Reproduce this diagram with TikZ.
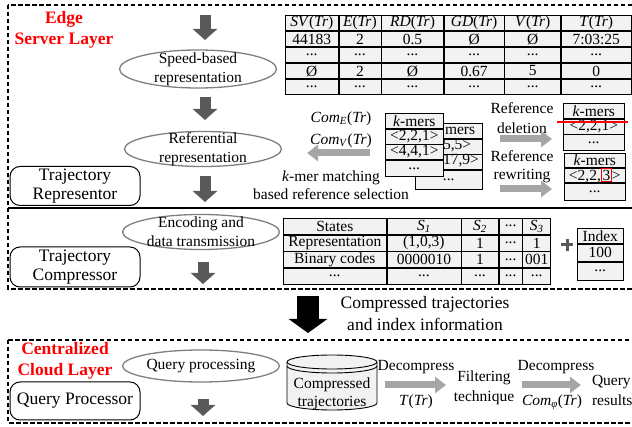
\documentclass[tikz,border=0pt]{standalone}
\usepackage{fontspec}
\setmainfont{Liberation Serif}
\usetikzlibrary{arrows.meta,shapes.geometric,matrix}
\definecolor{dgray}{HTML}{595959}
\definecolor{lgray}{HTML}{A6A6A6}
\definecolor{cellgray}{HTML}{F2F2F2}
\definecolor{ellgray}{HTML}{7F7F7F}
\newcommand{\myfs}[2]{\fontsize{#1pt}{#2pt}\selectfont}
\newcommand{\redbox}[1]{{\setlength{\fboxsep}{0.8pt}\setlength{\fboxrule}{0.8pt}\fcolorbox{red}{cellgray}{#1}}}
\begin{document}
\begin{tikzpicture}[x=1pt,y=-1pt,
  every node/.style={font=\myfs{15.5}{17}, inner sep=0pt, outer sep=0pt},
  frame/.style={draw, line width=2.2pt, dash pattern=on 4.5pt off 2.5pt},
  proc/.style={ellipse, draw=ellgray, line width=1.3pt, minimum width=157pt, minimum height=35pt},
  module/.style={draw, rounded corners=10pt, line width=1pt, minimum width=130pt, minimum height=39pt, align=center, font=\myfs{17.5}{19}},
  darr/.style={draw=dgray, line width=11pt, -{Triangle[length=11pt,width=24pt]}},
  garr/.style={draw=lgray, line width=7pt, -{Triangle[length=11pt,width=16pt]}},
  cell/.style={draw, line width=0.6pt, fill=cellgray, minimum height=15.4pt, anchor=center, font=\myfs{15.5}{17}},
  tab/.style={matrix of nodes, nodes={cell}, column sep=0pt, row sep=0pt, anchor=north west, inner sep=0pt},
  lbl/.style={align=center, font=\myfs{15.5}{19}},
  layer/.style={text=red, align=center, font=\bfseries\myfs{17.5}{21}}
]
\useasboundingbox (0,0) rectangle (632,427);

% layer frames
\draw[frame] (8,5) rectangle (645,289);
\draw[line width=1.5pt] (8,208) -- (645,208);
\draw[frame] (8,340) rectangle (645,423);

\node[layer] (edge) at (64,30) {Edge\\Server Layer};
\node[layer] (cloud) at (65,361) {Centralized\\Cloud Layer};

% modules
\node[module] (rep) at (75,186) {Trajectory\\Representor};
\node[module, minimum height=40pt] (comp) at (75,267) {Trajectory\\Compressor};
\node[module, minimum height=38pt] (qp) at (75,401) {Query Processor};

% process ellipses
\node[proc, minimum height=38pt] (speed) at (198,69) {};
\node[lbl] (speedt) at (speed) {Speed-based\\representation};
\node[proc] (ref) at (203,149) {};
\node[lbl] (reft) at (ref) {Referential\\representation};
\node[proc] (enc) at (201,232) {};
\node[lbl] (enct) at (enc) {Encoding and\\data transmission};
\node[proc, minimum height=32pt] (qry) at (201,366) {};
\node[lbl] (qryt) at (qry) {Query processing};

% dark down arrows
\coordinate (d1a) at (205,15);  \coordinate (d1b) at (205,40);
\coordinate (d2a) at (205,97);  \coordinate (d2b) at (205,120);
\coordinate (d3a) at (205,176); \coordinate (d3b) at (205,202);
\coordinate (d4a) at (203,262); \coordinate (d4b) at (203,284);
\coordinate (d5a) at (203,399); \coordinate (d5b) at (203,416);
\draw[darr] (d1a) -- (d1b);
\draw[darr] (d2a) -- (d2b);
\draw[darr] (d3a) -- (d3b);
\draw[darr] (d4a) -- (d4b);
\draw[darr] (d5a) -- (d5b);

% big black arrow
\coordinate (b1a) at (308,296); \coordinate (b1b) at (308,333);
\draw[line width=22pt, -{Triangle[length=14pt,width=38pt]}] (b1a) -- (b1b);
\node[align=center, font=\myfs{17.5}{22}] (ctxt) at (425,314) {Compressed trajectories\\and index information};

% speed table
\matrix (tv) [tab,
  column 1/.style={nodes={minimum width=53pt}},
  column 2/.style={nodes={minimum width=42pt}},
  column 3/.style={nodes={minimum width=62pt}},
  column 4/.style={nodes={minimum width=60pt}},
  column 5/.style={nodes={minimum width=56pt}},
  column 6/.style={nodes={minimum width=70pt}}] at (285,15) {
\textit{SV}(\textit{Tr}) & \textit{E}(\textit{Tr}) & \textit{RD}(\textit{Tr}) & \textit{GD}(\textit{Tr}) & \textit{V}(\textit{Tr}) & \textit{T}(\textit{Tr}) \\
44183 & 2 & 0.5 & Ø & Ø & 7:03:25 \\
... & ... & ... & ... & ... & ... \\
Ø & 2 & Ø & 0.67 & 5 & 0 \\
... & ... & ... & ... & ... & ... \\
};

% Com labels and arrow
\node[align=center, font=\myfs{15.5}{22}] (com) at (341,130) {\textit{Com}\textsubscript{\textit{E}}(\textit{Tr})\\\textit{Com}\textsubscript{\textit{V}}(\textit{Tr})};
\coordinate (g1a) at (370,153); \coordinate (g1b) at (307,153);
\draw[garr] (g1a) -- (g1b);
\node[align=center, font=\myfs{15.5}{18}] (kmatch) at (331,185) {\textit{k}-mer matching\\based reference selection};

% stacked k-mer tables
\matrix (kb) [tab, nodes in empty cells,
  column 1/.style={nodes={minimum width=67pt}},
  row 1/.style={nodes={minimum height=15pt}},
  row 2/.style={nodes={minimum height=15pt}},
  row 3/.style={nodes={minimum height=15pt}},
  row 4/.style={nodes={minimum height=19pt}}] at (415,123) {
 \\ \\ \\ ... \\
};
\node[anchor=west] (kb1) at (445,131) {mers};
\node[anchor=west] (kb2) at (443,146) {5,5>};
\node[anchor=west] (kb3) at (443,161) {17,9>};
\matrix (kf) [tab,
  column 1/.style={nodes={minimum width=58pt}},
  row 1/.style={nodes={minimum height=15pt}},
  row 2/.style={nodes={minimum height=15pt}},
  row 3/.style={nodes={minimum height=15pt}},
  row 4/.style={nodes={minimum height=16.5pt}}] at (385,113) {
\textit{k}-mers \\ <2,2,1> \\ <4,4,1> \\ ... \\
};

% reference deletion / rewriting
\node[lbl, font=\myfs{15.5}{20}] (deltxt) at (522,118) {Reference\\deletion};
\coordinate (g2a) at (500,139); \coordinate (g2b) at (552,139);
\draw[garr] (g2a) -- (g2b);
\matrix (del) [tab,
  column 1/.style={nodes={minimum width=61pt}},
  row 1/.style={nodes={minimum height=15pt}},
  row 2/.style={nodes={minimum height=15pt}},
  row 3/.style={nodes={minimum height=16pt}}] at (563,103) {
\textit{k}-mers \\ <2,2,1> \\ ... \\
};
\coordinate (rl1) at (557,122); \coordinate (rl2) at (628,122);
\draw[red, line width=2.2pt] (rl1) -- (rl2);

\node[lbl, font=\myfs{15.5}{18}] (rewtxt) at (522,167) {Reference\\rewriting};
\coordinate (g3a) at (500,189); \coordinate (g3b) at (552,189);
\draw[garr] (g3a) -- (g3b);
\matrix (rew) [tab,
  column 1/.style={nodes={minimum width=61pt}},
  row 1/.style={nodes={minimum height=14.4pt}},
  row 2/.style={nodes={minimum height=14.4pt}},
  row 3/.style={nodes={minimum height=17pt}}] at (564,153) {
\textit{k}-mers \\ <2,2,\redbox{3}> \\ ... \\
};

% states table
\matrix (st) [tab,
  column 1/.style={nodes={minimum width=103pt}},
  column 2/.style={nodes={minimum width=74pt}},
  column 3/.style={nodes={minimum width=37pt}},
  column 4/.style={nodes={minimum width=23pt}},
  column 5/.style={nodes={minimum width=28pt}},
  row 1/.style={nodes={minimum height=16pt}},
  row 2/.style={nodes={minimum height=16pt}},
  row 3/.style={nodes={minimum height=16pt}},
  row 4/.style={nodes={minimum height=16pt}}] at (283,218) {
States & \textit{S}\textsubscript{\textit{1}} & \textit{S}\textsubscript{\textit{2}} & ... & \textit{S}\textsubscript{\textit{3}} \\
Representation & (1,0,3) & 1 & ... & 1 \\
Binary codes & 0000010 & 1 & ... & 001 \\
... & ... & ... & ... & ... \\
};
% plus sign
\draw[dgray, line width=3pt] (561,245) -- (573,245);
\draw[dgray, line width=3pt] (567,239) -- (567,251);
\matrix (idx) [tab,
  column 1/.style={nodes={minimum width=46pt}},
  row 1/.style={nodes={minimum height=15.5pt}},
  row 2/.style={nodes={minimum height=17pt}},
  row 3/.style={nodes={minimum height=18pt}}] at (577,228) {
Index \\ 100 \\ ... \\
};

% cylinder
\filldraw[fill=cellgray, line width=0.9pt] (287,362) -- (287,403)
  arc[start angle=180, end angle=360, x radius=45pt, y radius=7pt] -- (377,362)
  arc[start angle=0, end angle=180, x radius=45pt, y radius=7pt] -- cycle;
\draw[line width=0.9pt] (287,362) arc[start angle=180, end angle=360, x radius=45pt, y radius=7pt];
\draw[line width=0.9pt] (287,366) arc[start angle=180, end angle=360, x radius=45pt, y radius=7pt];
\node[lbl, font=\myfs{15.5}{18}] (cyl) at (332,394) {Compressed\\trajectories};

% query pipeline
\node (dec1) at (416,367) {Decompress};
\coordinate (g4a) at (385,385); \coordinate (g4b) at (446,385);
\draw[garr] (g4a) -- (g4b);
\node (ttr) at (416,402) {\textit{T}(\textit{Tr})};
\node[lbl, font=\myfs{15.5}{20}] (filt) at (484,388) {Filtering\\technique};
\node (dec2) at (556,367) {Decompress};
\coordinate (g5a) at (522,385); \coordinate (g5b) at (581,385);
\draw[garr] (g5a) -- (g5b);
\node (comphi) at (552,402) {\textit{Com}\textsubscript{\textit{φ}}(\textit{Tr})};
\node[anchor=west, align=left, font=\myfs{15.5}{20}] (qres) at (592,390) {Query\\results};
\end{tikzpicture}
\end{document}
